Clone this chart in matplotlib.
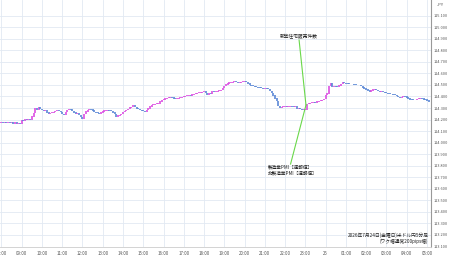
import matplotlib
matplotlib.use("Agg")
import matplotlib.pyplot as plt

plt.rcParams["font.family"] = ["Noto Sans CJK JP", "DejaVu Sans"]

# 5-minute closes, one row per hour starting 08:00
closes = [
    114.175, 114.172, 114.176, 114.171, 114.174, 114.170, 114.173, 114.169, 114.172, 114.168, 114.171, 114.167,
    114.196, 114.192, 114.205, 114.200, 114.206, 114.199, 114.228, 114.258, 114.300, 114.283, 114.303, 114.292,
    114.283, 114.274, 114.276, 114.262, 114.254, 114.256, 114.261, 114.266, 114.274, 114.283, 114.275, 114.266,
    114.249, 114.240, 114.266, 114.283, 114.291, 114.287, 114.274, 114.262, 114.254, 114.255, 114.240, 114.222,
    114.211, 114.249, 114.268, 114.283, 114.289, 114.287, 114.279, 114.266, 114.262, 114.258, 114.254, 114.261,
    114.269, 114.278, 114.280, 114.283, 114.279, 114.274, 114.263, 114.249, 114.225, 114.236, 114.240, 114.249,
    114.266, 114.274, 114.283, 114.291, 114.303, 114.309, 114.320, 114.309, 114.298, 114.291, 114.283, 114.279,
    114.274, 114.268, 114.283, 114.298, 114.313, 114.326, 114.330, 114.335, 114.339, 114.341, 114.356, 114.369,
    114.374, 114.382, 114.387, 114.389, 114.391, 114.389, 114.382, 114.378, 114.382, 114.387, 114.389, 114.395,
    114.400, 114.404, 114.408, 114.413, 114.410, 114.417, 114.421, 114.425, 114.430, 114.434, 114.436, 114.439,
    114.441, 114.430, 114.413, 114.430, 114.428, 114.441, 114.439, 114.441, 114.447, 114.452, 114.456, 114.473,
    114.490, 114.503, 114.512, 114.521, 114.523, 114.525, 114.528, 114.525, 114.521, 114.523, 114.525, 114.528,
    114.528, 114.525, 114.512, 114.499, 114.495, 114.490, 114.485, 114.482, 114.478, 114.476, 114.474, 114.471,
    114.471, 114.469, 114.465, 114.448, 114.430, 114.408, 114.384, 114.360, 114.318, 114.305, 114.309, 114.311,
    114.313, 114.309, 114.313, 114.318, 114.313, 114.309, 114.318, 114.298, 114.300, 114.291, 114.283, 114.289,
    114.289, 114.335, 114.341, 114.343, 114.346, 114.352, 114.348, 114.355, 114.361, 114.365, 114.369, 114.378,
    114.413, 114.428, 114.491, 114.514, 114.485, 114.491, 114.485, 114.484, 114.495, 114.508, 114.519, 114.517,
    114.514, 114.512, 114.509, 114.508, 114.508, 114.503, 114.499, 114.500, 114.499, 114.491, 114.478, 114.471,
    114.461, 114.452, 114.441, 114.452, 114.461, 114.462, 114.456, 114.448, 114.439, 114.443, 114.439, 114.434,
    114.430, 114.428, 114.421, 114.421, 114.417, 114.413, 114.404, 114.395, 114.392, 114.395, 114.400, 114.398,
    114.391, 114.382, 114.376, 114.374, 114.369, 114.370, 114.378, 114.384, 114.385, 114.380, 114.376, 114.374,
    114.365, 114.355,
]
first_open = 114.172

hour_labels = ["08:00", "09:00", "10:00", "11:00", "12:00", "13:00", "14:00", "15:00",
               "16:00", "17:00", "18:00", "19:00", "20:00", "21:00", "22:00", "23:00",
               "25", "01:00", "02:00", "03:00", "04:00", "05:00"]
y_ticks = [round(113.1 + 0.1 * i, 1) for i in range(21)]

# event markers
event_top = "新築住宅販売件数"
event_bottom = "製造業PMI［速報値］\n非製造業PMI［速報値］"
event_hour = 15.03
event_price = 114.326

title_lines = "2026年7月24日(金曜日)米ドル円5分足\n(ワク幅通常200pips幅)"

up_color = "#dc4fe2"
down_color = "#5b88d6"
grid_color = "#e2e9f2"

fig = plt.figure(figsize=(4.5, 2.58), dpi=100)
ax = fig.add_axes([0, 11 / 258, 431 / 450, 247 / 258])

opens = [first_open] + closes[:-1]
xs = [i / 12 for i in range(len(closes))]
for x, o, c in zip(xs, opens, closes):
    col = up_color if c >= o else down_color
    lo, hi = min(o, c), max(o, c)
    ax.vlines(x, lo - 0.003, hi + 0.003, color=col, linewidth=1.2)

ax.plot([14.69, event_hour], [114.889, event_price], color="#6ad84a", linewidth=0.8)
ax.plot([14.27, event_hour], [113.815, event_price], color="#6ad84a", linewidth=0.8)
ax.text(14.69, 114.924, event_top, fontsize=3.4, ha="center", va="center", color="#222222")
ax.text(13.16, 113.76, event_bottom, fontsize=3.3, ha="left", va="center",
        color="#222222", linespacing=1.15)

ax.text(21.07, 113.17, title_lines, fontsize=3.4, ha="right", va="center",
        color="#222222", linespacing=1.1)

ax.set_xlim(-0.07, 21.2)
ax.set_ylim(113.096, 115.236)
ax.set_xticks(range(len(hour_labels)))
ax.set_xticklabels(hour_labels)
ax.set_yticks(y_ticks)
ax.set_yticklabels([f"{v:.3f}" for v in y_ticks])
ax.yaxis.tick_right()
ax.tick_params(axis="x", length=0, labelsize=3.2, labelcolor="#555555", pad=3)
ax.tick_params(axis="y", length=0, labelsize=2.8, labelcolor="#555555", pad=2)
ax.grid(True, color=grid_color, linewidth=0.6)
ax.set_axisbelow(True)
for s in ["top", "left"]:
    ax.spines[s].set_visible(False)
ax.spines["right"].set_color("#999999")
ax.spines["right"].set_linewidth(0.8)
ax.spines["bottom"].set_color("#cccccc")
ax.spines["bottom"].set_linewidth(0.6)

fig.text(440 / 450, 1 - 5 / 258, "JPY", fontsize=3.0, ha="center", va="center", color="#555555")

fig.savefig("out.png", dpi=100)
plt.close(fig)
